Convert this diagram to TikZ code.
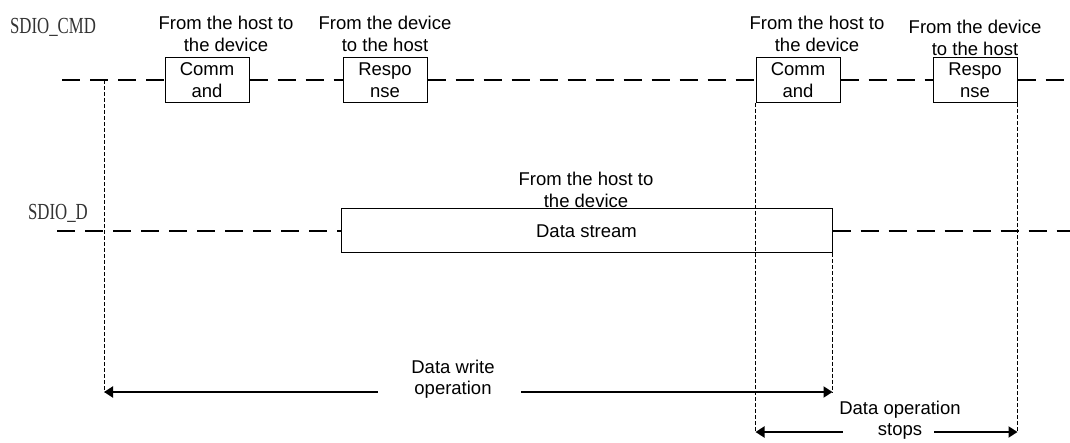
\documentclass[tikz,border=0pt]{standalone}
\usepackage{fontspec}
\setmainfont{Liberation Sans}
\newfontfamily\sigfont[FakeStretch=0.73]{Liberation Serif}
\usetikzlibrary{arrows.meta,positioning}

\begin{document}
\begin{tikzpicture}[x=1pt,y=-1pt,
  font=\fontsize{18.5}{21.5}\selectfont,
  sigline/.style={line width=2.6pt,dash pattern=on 18pt off 10pt},
  pktbox/.style={draw,line width=1pt,minimum width=84pt,minimum height=45pt,
    inner sep=0pt,align=center},
  dirlabel/.style={align=center,inner sep=0pt,font=\fontsize{18.5}{22.5}\selectfont},
  guide/.style={line width=0.8pt,dash pattern=on 4pt off 2pt},
  spanarrow/.style={line width=2pt,-{Triangle[length=9pt,width=11pt]}},
  signame/.style={font=\sigfont\fontsize{23}{23}\selectfont,text=black!80,inner sep=0pt}
]
  \useasboundingbox (0,0) rectangle (1070,443);

  % signal names
  \node[signame] (cmdname) at (53,27) {SDIO\_CMD};
  \node[signame] (dname) at (58,213) {SDIO\_D};

  % CMD line: command / response packets
  \node[pktbox] (cmd1) at (207,80) {Comm\\and};
  \node[pktbox] (rsp1) at (385,80) {Respo\\nse};
  \node[pktbox] (cmd2) at (798,80) {Comm\\and};
  \node[pktbox] (rsp2) at (975,80) {Respo\\nse};
  \node[dirlabel] (cmd1dir) at (226,34) {From the host to\\the device};
  \node[dirlabel] (rsp1dir) at (385,34) {From the device\\to the host};
  \node[dirlabel] (cmd2dir) at (817,34) {From the host to\\the device};
  \node[dirlabel] (rsp2dir) at (975,38) {From the device\\to the host};

  \coordinate (cmdstart) at (62,80);
  \coordinate (cmdend) at (1070,80);
  \draw[sigline] (cmdstart) -- (cmd1.west);
  \draw[sigline] (cmd1.east) -- (rsp1.west);
  \draw[sigline] (rsp1.east) -- (cmd2.west);
  \draw[sigline] (cmd2.east) -- (rsp2.west);
  \draw[sigline] (rsp2.east) -- (cmdend);

  % D line: data stream
  \node[pktbox,minimum width=491pt,minimum height=44pt] (data) at (586.5,231) {Data stream};
  \node[dirlabel] (datadir) at (586,190) {From the host to\\the device};
  \coordinate (dstart) at (57,231);
  \coordinate (dend) at (1070,231);
  \draw[sigline] (dstart) -- (data.west);
  \draw[sigline] (data.east) -- (dend);

  % guide lines
  \coordinate (wrbeg) at (104,392);
  \coordinate (wrend) at (data.south east |- 0,392);
  \coordinate (stbeg) at (cmd2.south west |- 0,432);
  \coordinate (stend) at (rsp2.south east |- 0,432);
  \draw[guide] (wrbeg |- cmdstart) -- (wrbeg);
  \draw[guide] (data.south east) -- (wrend);
  \draw[guide] (cmd2.south west) -- (stbeg);
  \draw[guide] (rsp2.south east) -- (stend);

  % spans
  \node[align=center] (wrtxt) at (453,379) {Data write\\operation};
  \node[align=center] (sttxt) at (900,420) {Data operation\\stops};
  \draw[spanarrow] ([xshift=-30pt]wrtxt.west |- wrbeg) -- (wrbeg);
  \draw[spanarrow] ([xshift=23pt]wrtxt.east |- wrend) -- (wrend);
  \draw[spanarrow] ([xshift=7pt]sttxt.west |- stbeg) -- (stbeg);
  \draw[spanarrow] ([xshift=-30pt]sttxt.east |- stend) -- (stend);
\end{tikzpicture}
\end{document}
